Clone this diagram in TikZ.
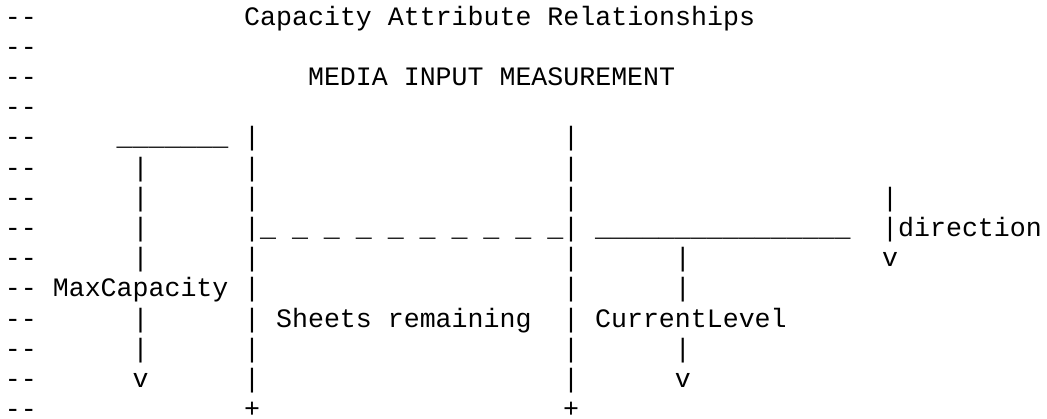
\documentclass[tikz,border=0pt]{standalone}
\usepackage{fontspec}
\setmonofont{Liberation Mono}
\begin{document}
\begin{tikzpicture}[x=11.9625pt,y=-22.65pt,
	txt/.style={anchor=base west,inner sep=0pt,outer sep=0pt,font=\ttfamily\fontsize{19.95}{22}\selectfont}]
	\useasboundingbox (-0.3135,-0.8278) rectangle (65.33,13.046);
	% comment marks and headings
	\foreach \r in {0,...,13}\node[txt] (lead\r) at (0,\r) {--};
	\node[txt] (title) at (15,0) {Capacity Attribute Relationships};
	\node[txt] (media) at (19,2) {MEDIA INPUT MEASUREMENT};
	% MaxCapacity arrow
	\node[txt] (maxtop) at (7,4) {\_\_\_\_\_\_\_};
	\foreach \r in {5,6,7,8,10,11}\node[txt] (mp\r) at (8,\r) {|};
	\node[txt] (maxcap) at (3,9) {MaxCapacity};
	\node[txt] (maxv) at (8,12) {v};
	% tray walls
	\foreach \r in {4,...,12}\node[txt] (lw\r) at (15,\r) {|};
	\foreach \r in {4,...,12}\node[txt] (rw\r) at (35,\r) {|};
	\foreach \c in {16,18,...,34}\node[txt] (lvl\c) at (\c,7) {\_};
	\node[txt] (sheets) at (17,10) {Sheets remaining};
	\node[txt] (lplus) at (15,13) {+};
	\node[txt] (rplus) at (35,13) {+};
	% CurrentLevel arrow
	\node[txt] (curtop) at (37,7) {\_\_\_\_\_\_\_\_\_\_\_\_\_\_\_\_};
	\foreach \r in {8,9,11}\node[txt] (cp\r) at (42,\r) {|};
	\node[txt] (curlevel) at (37,10) {CurrentLevel};
	\node[txt] (curv) at (42,12) {v};
	% direction arrow
	\foreach \r in {6,7}\node[txt] (dp\r) at (55,\r) {|};
	\node[txt] (dir) at (56,7) {direction};
	\node[txt] (dirv) at (55,8) {v};
	% bottom rules, cut by the page edge
	\begin{scope}[every node/.append style={text=black!15,yshift=-2pt}]
		\node[txt] (bot1) at (7,13) {\_\_\_\_\_\_\_};
		\node[txt] (bot2) at (16,13) {\_\_\_\_\_\_\_\_\_\_\_\_\_\_\_\_\_\_\_};
		\node[txt] (bot3) at (37,13) {\_\_\_\_\_\_\_};
	\end{scope}
\end{tikzpicture}
\end{document}
